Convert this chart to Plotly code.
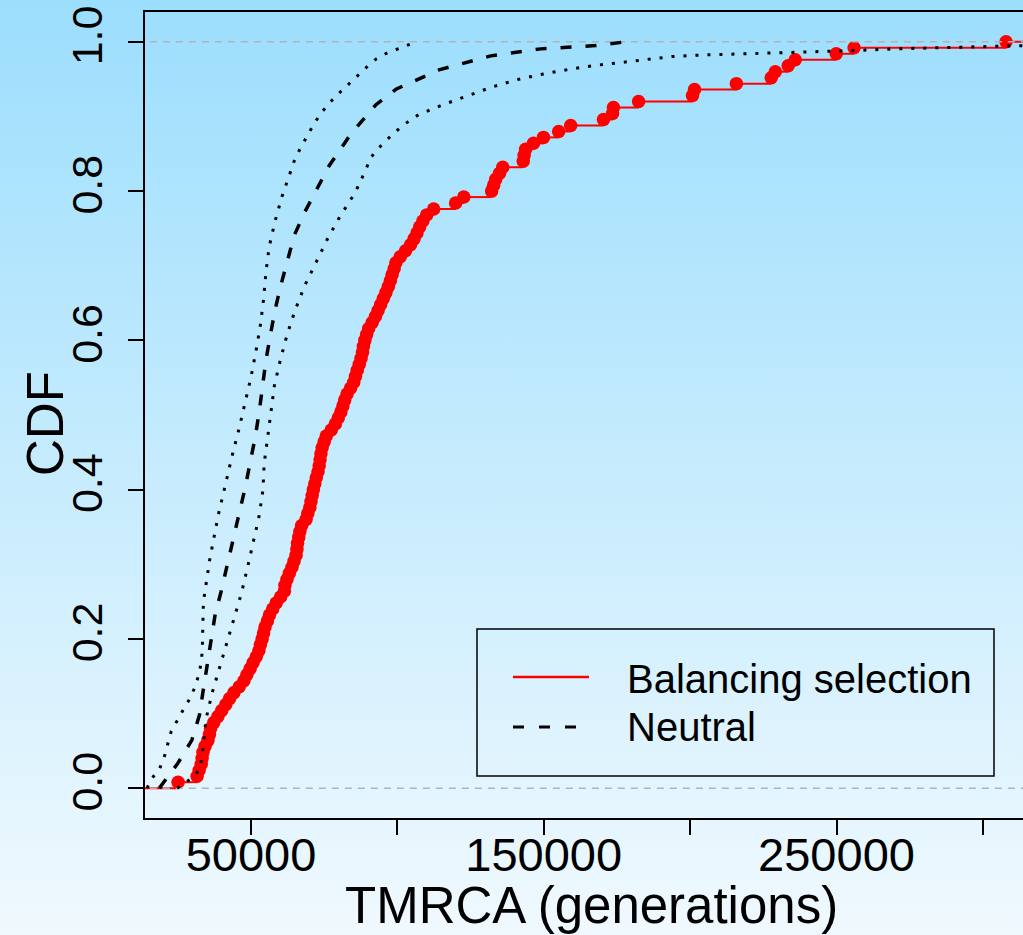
import base64
import plotly.graph_objects as go

# ---------------- data ----------------
# Balancing selection: sorted TMRCA values (generations), ECDF points
bal_x = [25100, 31600, 32300, 33000, 33300, 33600, 34300, 35300, 35800, 36200,
         37300, 38700, 40000, 41400, 42700, 44200, 46000, 47600, 48600, 49700,
         50700, 51800, 52700, 53200, 53800, 54300, 54800, 55600, 56300, 57400,
         58600, 60100, 61400, 61600, 62300, 63100, 64000, 64700, 65400, 65700,
         65900, 66300, 66700, 67300, 68800, 69400, 70100, 70500, 70900, 71300,
         71800, 72300, 72900, 73300, 73600, 73900, 74300, 75000, 75700, 77400,
         78800, 79800, 80700, 81400, 82000, 82800, 84000, 85100, 85700, 86300,
         87000, 87600, 88100, 88400, 88900, 89500, 90200, 91400, 92500, 93400,
         94300, 95200, 96100, 96900, 97600, 98200, 98900, 99500, 101000, 102800,
         104500, 105700, 106700, 107600, 108700, 110000, 112400, 119900, 122700, 132200,
         132900, 133600, 134900, 136000, 143000, 143300, 143800, 146500, 149900, 155100,
         159200, 170400, 173500, 173800, 182400, 200800, 201500, 215800, 227700, 229100,
         233500, 235900, 249900, 256000, 307900]

# Neutral expectation (median, dashed)
neu_x = [18700, 20300, 25000, 29800, 32400, 33700, 35000, 36400, 37800, 39800,
         42000, 44100, 46000, 48000, 49800, 51400, 52800, 54000, 55100, 56600,
         58200, 60200, 62500, 64800, 68500, 72500, 76700, 84100, 92600, 99700,
         107600, 114200, 131900, 148900, 167700, 177900]
neu_y = [0.0, 0.008, 0.0332, 0.0644, 0.098, 0.1315, 0.1651, 0.2, 0.2336, 0.2635,
         0.2993, 0.3352, 0.3687, 0.4023, 0.4358, 0.4694, 0.5038, 0.5396, 0.5732, 0.6067,
         0.6403, 0.6738, 0.7074, 0.7409, 0.7728, 0.8036, 0.834, 0.8765, 0.9154, 0.9369,
         0.9513, 0.9624, 0.9812, 0.9906, 0.995, 1.0]

# Neutral lower envelope (dotted, left)
lo_x = [14500, 15900, 18700, 20400, 22700, 24800, 27000, 29300, 31000, 32300,
        33100, 33400, 33500, 33550, 33700, 34100, 34800, 35900, 37200, 38700,
        40300, 41800, 43800, 46000, 48000, 50000, 51700, 53200, 54300, 55100,
        56200, 58200, 60600, 63400, 65000, 67100, 69400, 71500, 73900, 76700,
        79800, 83000, 86200, 89600, 92900, 96700, 100900, 105200]
lo_y = [0.0, 0.0121, 0.0251, 0.042, 0.0756, 0.0913, 0.106, 0.1212, 0.1369, 0.154,
        0.1709, 0.1893, 0.2067, 0.2242, 0.2423, 0.2591, 0.2792, 0.306, 0.3329, 0.3638,
        0.3906, 0.4174, 0.4493, 0.4828, 0.5172, 0.5507, 0.5856, 0.6201, 0.655, 0.6909,
        0.7252, 0.7593, 0.7929, 0.8264, 0.843, 0.8591, 0.8752, 0.8899, 0.9043, 0.9177,
        0.9302, 0.9423, 0.9548, 0.9664, 0.9775, 0.9856, 0.9915, 0.9983]

# Neutral upper envelope (dotted, right)
hi_x = [24800, 29300, 32400, 33300, 33700, 34700, 36700, 39200, 41700, 44300,
        46800, 48900, 50900, 52800, 54100, 54500, 55700, 56800, 58000, 60000,
        62300, 65100, 68400, 72300, 76200, 80500, 85500, 89200, 90900, 94300,
        98100, 102500, 107200, 115600, 124000, 132400, 141000, 149900, 158500, 167100,
        176000, 185000, 193800, 202700, 216000, 229400, 242700, 256000, 269400, 282900,
        296300, 309800, 320000]
hi_y = [0.0, 0.0121, 0.0242, 0.043, 0.0577, 0.0936, 0.1271, 0.1607, 0.195, 0.2278,
        0.2621, 0.297, 0.3306, 0.3651, 0.4, 0.4349, 0.4702, 0.5051, 0.5396, 0.5732,
        0.6071, 0.6407, 0.6738, 0.7051, 0.7365, 0.7668, 0.7973, 0.8286, 0.8452, 0.8604,
        0.8752, 0.8899, 0.9024, 0.9158, 0.9279, 0.9396, 0.9494, 0.957, 0.9631, 0.9682,
        0.9722, 0.9762, 0.9803, 0.9822, 0.9835, 0.9848, 0.9869, 0.9883, 0.9906, 0.9919,
        0.9937, 0.995, 0.9955]

x_tickvals = [50000, 100000, 150000, 200000, 250000, 300000]
x_ticktext = ["50000", "", "150000", "", "250000", ""]
y_tickvals = [0.0, 0.2, 0.4, 0.6, 0.8, 1.0]
y_ticktext = ["0.0", "0.2", "0.4", "0.6", "0.8", "1.0"]

# ---------------- layout geometry ----------------
W, H = 1023, 935
ML, MR, MT, MB = 145, 0, 12, 117
PW, PH = W - ML - MR, H - MT - MB
FONT = "Liberation Sans, Arial, Helvetica, sans-serif"


def fx(px):
    return (px - ML) / PW


def fy(py):
    return (H - MB - py) / PH


# ECDF construction
n = len(bal_x)
ecdf_y = [(i + 1) / n for i in range(n)]
edges = [-100000] + bal_x + [1000000]
seg_x, seg_y = [], []
for i in range(n + 1):
    lvl = i / n
    seg_x += [edges[i], edges[i + 1], None]
    seg_y += [lvl, lvl, None]

fig = go.Figure()
fig.add_trace(go.Scatter(x=seg_x, y=seg_y, mode="lines",
                         line=dict(color="#ff0000", width=2), showlegend=False,
                         hoverinfo="skip"))
fig.add_trace(go.Scatter(x=bal_x, y=ecdf_y, mode="markers",
                         marker=dict(color="#ff0000", size=13.5, line=dict(width=0)),
                         showlegend=False, name="Balancing selection"))
# grey 0/1 reference lines
fig.add_trace(go.Scatter(x=[-100000, 1000000, None, -100000, 1000000],
                         y=[0, 0, None, 1, 1], mode="lines",
                         line=dict(color="#b3b3b3", width=1.5, dash="7px,6px"),
                         showlegend=False, hoverinfo="skip"))
fig.add_trace(go.Scatter(x=lo_x, y=lo_y, mode="lines",
                         line=dict(color="black", width=3, dash="3px,9px"),
                         showlegend=False))
fig.add_trace(go.Scatter(x=hi_x, y=hi_y, mode="lines",
                         line=dict(color="black", width=3, dash="3px,9px"),
                         showlegend=False))
fig.add_trace(go.Scatter(x=neu_x, y=neu_y, mode="lines",
                         line=dict(color="black", width=3.5, dash="11px,14px"),
                         showlegend=False, name="Neutral"))

# gradient background
svg = ("<svg xmlns='http://www.w3.org/2000/svg' width='10' height='100' viewBox='0 0 10 100' "
       "preserveAspectRatio='none'><defs><linearGradient id='g' x1='0' y1='0' x2='0' y2='1'>"
       "<stop offset='0' stop-color='#9cdefd'/><stop offset='1' stop-color='#f0f9fe'/>"
       "</linearGradient></defs><rect width='10' height='100' fill='url(#g)'/></svg>")
src = "data:image/svg+xml;base64," + base64.b64encode(svg.encode()).decode()

axis_common = dict(showgrid=False, zeroline=False, showline=True, linecolor="black",
                   linewidth=2, ticks="outside", ticklen=15, tickwidth=2,
                   tickcolor="black")

fig.update_layout(
    width=W, height=H,
    margin=dict(l=ML, r=MR, t=MT, b=MB, pad=0),
    paper_bgcolor="rgba(0,0,0,0)", plot_bgcolor="rgba(0,0,0,0)",
    font=dict(family=FONT, color="black"),
    xaxis=dict(range=[13800, 313700], tickvals=x_tickvals, ticktext=x_ticktext,
               mirror=True, ticklabelstandoff=-20,
               tickfont=dict(family=FONT, size=47, color="black"), **axis_common),
    yaxis=dict(range=[-0.04, 1.04], tickvals=y_tickvals, ticktext=y_ticktext,
               tickangle=-90, mirror=False, ticklabelstandoff=9,
               tickfont=dict(family=FONT, size=43, color="black"), **axis_common),
    images=[dict(source=src, xref="paper", yref="paper", x=fx(0), y=fy(0),
                 sizex=W / PW, sizey=H / PH, xanchor="left", yanchor="top",
                 sizing="stretch", layer="below")],
    shapes=[
        dict(type="rect", xref="paper", yref="paper", x0=fx(477), x1=fx(994),
             y0=fy(776), y1=fy(629), line=dict(color="black", width=1.5)),
        dict(type="line", xref="paper", yref="paper", x0=fx(513), x1=fx(589),
             y0=fy(677), y1=fy(677), line=dict(color="#ff0000", width=2.5)),
        dict(type="line", xref="paper", yref="paper", x0=fx(513), x1=fx(578),
             y0=fy(727), y1=fy(727), line=dict(color="black", width=3, dash="11px,15px")),
    ],
    annotations=[
        dict(text="Balancing selection", xref="paper", yref="paper", x=fx(625), y=fy(679),
             xanchor="left", yanchor="middle", showarrow=False,
             font=dict(family=FONT, size=40, color="black")),
        dict(text="Neutral", xref="paper", yref="paper", x=fx(625), y=fy(727),
             xanchor="left", yanchor="middle", showarrow=False,
             font=dict(family=FONT, size=40, color="black")),
        dict(text="TMRCA (generations)", xref="paper", yref="paper", x=fx(591.5), y=fy(906),
             xanchor="center", yanchor="middle", showarrow=False,
             font=dict(family=FONT, size=51, color="black")),
        dict(text="CDF", xref="paper", yref="paper", x=fx(46), y=fy(424),
             xanchor="center", yanchor="middle", showarrow=False, textangle=-90,
             font=dict(family=FONT, size=51, color="black")),
    ],
)

fig.write_html("out.html")
